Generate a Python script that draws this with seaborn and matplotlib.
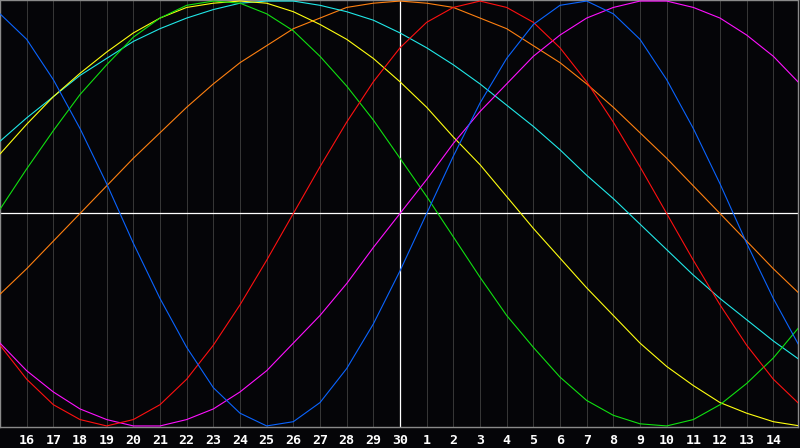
import numpy as np
import pandas as pd
import matplotlib
matplotlib.use("Agg")
import matplotlib.pyplot as plt
import seaborn as sns

# day offsets from the centre day (30), and the day numbers shown below
offsets = list(range(-15, 16))
day_labels = [15, 16, 17, 18, 19, 20, 21, 22, 23, 24, 25, 26, 27, 28, 29, 30,
              1, 2, 3, 4, 5, 6, 7, 8, 9, 10, 11, 12, 13, 14, 15]

# values, one per day (-1 .. 1)
physical = [0.94, 0.82, 0.63, 0.40, 0.14, -0.14, -0.40, -0.63, -0.82, -0.94, -1.00,
            -0.98, -0.89, -0.73, -0.52, -0.27, 0.00, 0.27, 0.52, 0.73, 0.89, 0.98,
            1.00, 0.94, 0.82, 0.63, 0.40, 0.14, -0.14, -0.40, -0.63]
emotional = [-0.62, -0.78, -0.90, -0.97, -1.00, -0.97, -0.90, -0.78, -0.62, -0.43, -0.22,
             0.00, 0.22, 0.43, 0.62, 0.78, 0.90, 0.97, 1.00, 0.97, 0.90, 0.78,
             0.62, 0.43, 0.22, 0.00, -0.22, -0.43, -0.62, -0.78, -0.90]
intellectual = [0.02, 0.21, 0.39, 0.56, 0.70, 0.83, 0.92, 0.98, 1.00, 0.99, 0.94,
                0.86, 0.74, 0.60, 0.44, 0.26, 0.08, -0.11, -0.30, -0.48, -0.63, -0.77,
                -0.88, -0.95, -0.99, -1.00, -0.97, -0.90, -0.80, -0.68, -0.53]
intuitive = [-0.61, -0.74, -0.84, -0.92, -0.97, -1.00, -1.00, -0.97, -0.92, -0.84, -0.74,
             -0.61, -0.48, -0.33, -0.16, 0.00, 0.16, 0.33, 0.48, 0.61, 0.74, 0.84,
             0.92, 0.97, 1.00, 1.00, 0.97, 0.92, 0.84, 0.74, 0.61]
aesthetic = [0.28, 0.42, 0.55, 0.66, 0.76, 0.85, 0.92, 0.97, 0.99, 1.00, 0.99,
             0.95, 0.89, 0.82, 0.73, 0.62, 0.50, 0.36, 0.23, 0.08, -0.07, -0.21,
             -0.35, -0.48, -0.61, -0.72, -0.81, -0.89, -0.94, -0.98, -1.00]
awareness = [-0.38, -0.26, -0.13, 0.00, 0.13, 0.26, 0.38, 0.50, 0.61, 0.71, 0.79,
             0.87, 0.92, 0.97, 0.99, 1.00, 0.99, 0.97, 0.92, 0.87, 0.79, 0.71,
             0.61, 0.50, 0.38, 0.26, 0.13, 0.00, -0.13, -0.26, -0.38]
spiritual = [0.34, 0.45, 0.55, 0.65, 0.73, 0.81, 0.87, 0.92, 0.96, 0.99, 1.00,
             1.00, 0.98, 0.95, 0.91, 0.85, 0.78, 0.70, 0.61, 0.51, 0.41, 0.30,
             0.18, 0.07, -0.05, -0.17, -0.29, -0.40, -0.50, -0.60, -0.69]

series = {
    "awareness": awareness,
    "spiritual": spiritual,
    "aesthetic": aesthetic,
    "intellectual": intellectual,
    "intuitive": intuitive,
    "emotional": emotional,
    "physical": physical,
}
colors = {
    "physical": "#0a64ff",
    "emotional": "#ff1010",
    "intellectual": "#10e010",
    "intuitive": "#ff10ff",
    "aesthetic": "#ffff10",
    "awareness": "#ff8010",
    "spiritual": "#20e8e8",
}

rows = []
for name, vals in series.items():
    for t, v in zip(offsets, vals):
        rows.append({"day": t, "value": v, "cycle": name})
df = pd.DataFrame(rows)

bg = "#050508"
sns.set_theme(style="dark", rc={"axes.facecolor": bg, "figure.facecolor": bg})

fig = plt.figure(figsize=(8, 4.48), dpi=100)
ax = fig.add_axes([0, 21 / 448, 798 / 800, 427 / 448])

# day grid
for t in offsets[1:-1]:
    if t != 0:
        ax.axvline(t, color="#363636", lw=0.72, zorder=1)
ax.axvline(0, color="white", lw=0.9, zorder=2)
ax.axhline(0, color="white", lw=0.9, zorder=2)

sns.lineplot(data=df, x="day", y="value", hue="cycle", palette=colors,
             hue_order=list(series.keys()), lw=0.8, legend=False, ax=ax,
             zorder=3)

ax.set_xlim(-15, -15 + 798 / (800 / 30))
ax.set_ylim(-1.005, 1.005)
ax.set_xlabel("")
ax.set_ylabel("")
ax.set_yticks([])
ax.set_xticks(offsets[1:-1])
ax.set_xticklabels([str(d) for d in day_labels[1:-1]])
ax.tick_params(axis="x", length=0, pad=5.0, colors="white")
for lab in ax.get_xticklabels():
    lab.set_fontfamily("DejaVu Sans Mono")
    lab.set_fontweight("bold")
    lab.set_fontsize(9.5)
for sp in ax.spines.values():
    sp.set_visible(True)
    sp.set_color("#8a8a8a")
    sp.set_linewidth(1.0)

fig.savefig("out.png", dpi=100, facecolor=bg)
